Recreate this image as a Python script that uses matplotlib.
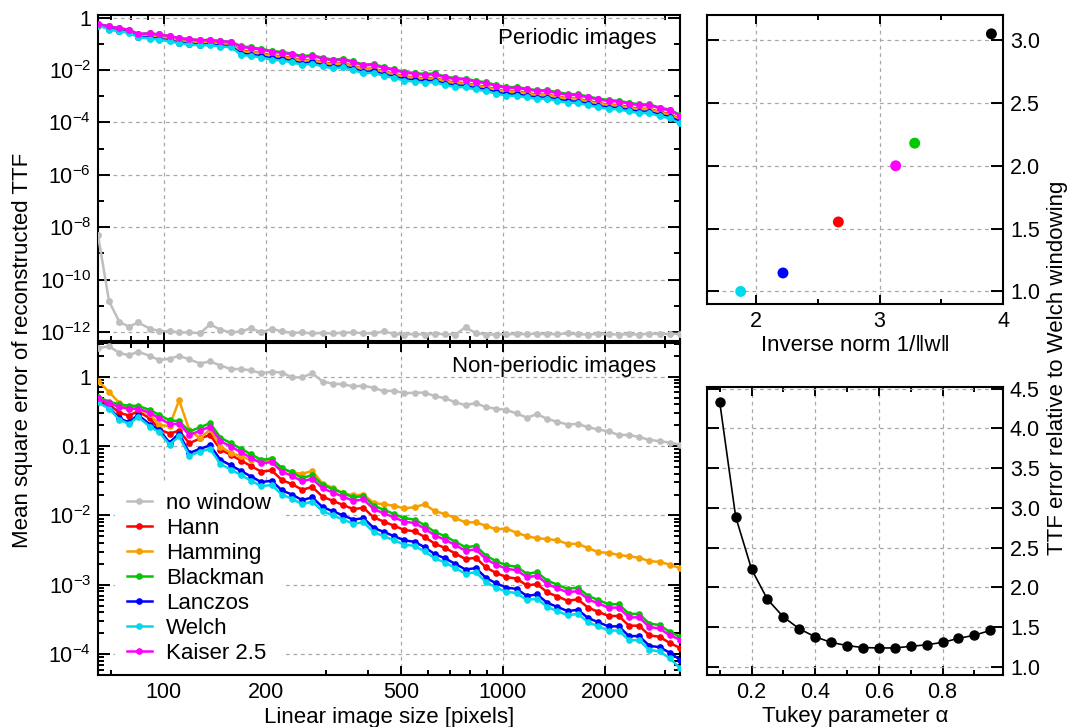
import matplotlib
matplotlib.use("Agg")
import numpy as np
import matplotlib.pyplot as plt
from matplotlib.ticker import FixedLocator, NullFormatter, FixedFormatter

plt.rcParams['font.family'] = ['Liberation Sans', 'DejaVu Sans']
plt.rcParams['mathtext.fontset'] = 'custom'
plt.rcParams['mathtext.rm'] = 'Liberation Sans'
plt.rcParams['mathtext.it'] = 'Liberation Sans:italic'
plt.rcParams['mathtext.default'] = 'regular'

# ---------------- data ----------------
# linear image sizes [pixels]
size_px = [64, 69, 74, 79, 84, 91, 97, 104, 111, 119,
           128, 137, 147, 158, 169, 181, 194, 208, 223, 239,
           256, 274, 294, 315, 338, 362, 388, 416, 446, 478,
           512, 549, 588, 630, 676, 724, 776, 832, 891, 955,
           1024, 1097, 1176, 1261, 1351, 1448, 1552, 1663, 1783, 1911,
           2048, 2195, 2353, 2521, 2702, 2896, 3104, 3327]

# Periodic images: log10 of mean square error
per_nowin = [-8.31, -10.83, -11.62, -11.80, -11.64, -11.87, -11.97, -11.97, -12.02, -12.02,
             -12.05, -11.71, -11.92, -12.02, -11.98, -11.86, -12.02, -11.88, -11.98, -12.04,
             -12.02, -12.06, -12.04, -12.06, -12.03, -12.02, -12.05, -12.06, -11.98, -12.08,
             -12.10, -12.08, -12.10, -12.07, -12.09, -12.10, -11.82, -12.05, -12.10, -12.10,
             -12.08, -12.09, -12.08, -12.07, -12.09, -12.08, -12.06, -12.09, -12.10, -12.08,
             -12.09, -12.10, -12.09, -12.10, -12.07, -12.08, -12.07, -12.08]
per_hann = [-0.26, -0.39, -0.46, -0.52, -0.68, -0.70, -0.74, -0.80, -0.88, -0.92,
            -0.96, -0.95, -1.00, -1.02, -1.26, -1.30, -1.36, -1.44, -1.48, -1.54,
            -1.64, -1.60, -1.70, -1.77, -1.74, -1.84, -1.96, -1.94, -2.06, -2.14,
            -2.24, -2.28, -2.32, -2.30, -2.42, -2.48, -2.50, -2.58, -2.64, -2.74,
            -2.82, -2.82, -2.88, -2.94, -2.94, -3.02, -3.08, -3.10, -3.18, -3.26,
            -3.32, -3.34, -3.42, -3.48, -3.48, -3.60, -3.68, -3.88]
per_hamming = [-0.30, -0.40, -0.47, -0.53, -0.69, -0.71, -0.75, -0.81, -0.89, -0.93,
               -0.97, -0.96, -1.01, -1.03, -1.28, -1.32, -1.38, -1.46, -1.50, -1.56,
               -1.66, -1.62, -1.72, -1.79, -1.76, -1.86, -1.98, -1.96, -2.08, -2.16,
               -2.26, -2.30, -2.34, -2.32, -2.44, -2.50, -2.52, -2.60, -2.66, -2.76,
               -2.84, -2.84, -2.90, -2.96, -2.96, -3.04, -3.10, -3.12, -3.20, -3.28,
               -3.34, -3.36, -3.44, -3.50, -3.50, -3.62, -3.70, -3.90]
per_blackman = [-0.24, -0.33, -0.40, -0.46, -0.62, -0.60, -0.64, -0.70, -0.78, -0.82,
                -0.86, -0.85, -0.90, -0.92, -1.09, -1.13, -1.19, -1.27, -1.31, -1.37,
                -1.47, -1.43, -1.53, -1.60, -1.57, -1.67, -1.79, -1.77, -1.89, -1.97,
                -2.07, -2.11, -2.15, -2.13, -2.25, -2.31, -2.33, -2.41, -2.47, -2.57,
                -2.65, -2.65, -2.71, -2.77, -2.77, -2.85, -2.91, -2.93, -3.01, -3.09,
                -3.15, -3.17, -3.25, -3.31, -3.31, -3.43, -3.51, -3.71]
per_lanczos = [-0.27, -0.43, -0.50, -0.56, -0.72, -0.77, -0.81, -0.87, -0.95, -0.99,
               -1.03, -1.02, -1.07, -1.09, -1.37, -1.41, -1.47, -1.55, -1.59, -1.65,
               -1.75, -1.71, -1.81, -1.88, -1.85, -1.95, -2.07, -2.05, -2.17, -2.25,
               -2.35, -2.39, -2.43, -2.41, -2.53, -2.59, -2.61, -2.69, -2.75, -2.85,
               -2.93, -2.93, -2.99, -3.05, -3.05, -3.13, -3.19, -3.21, -3.29, -3.37,
               -3.43, -3.45, -3.53, -3.59, -3.59, -3.71, -3.79, -3.97]
per_welch = [-0.28, -0.45, -0.52, -0.58, -0.74, -0.80, -0.84, -0.90, -0.98, -1.02,
             -1.06, -1.05, -1.10, -1.12, -1.42, -1.46, -1.52, -1.60, -1.64, -1.70,
             -1.80, -1.76, -1.86, -1.93, -1.90, -2.00, -2.12, -2.10, -2.22, -2.30,
             -2.40, -2.44, -2.48, -2.46, -2.58, -2.64, -2.66, -2.74, -2.80, -2.90,
             -2.98, -2.98, -3.04, -3.10, -3.10, -3.18, -3.24, -3.26, -3.34, -3.42,
             -3.48, -3.50, -3.58, -3.64, -3.64, -3.76, -3.84, -4.04]
per_kaiser = [-0.24, -0.33, -0.40, -0.46, -0.62, -0.60, -0.64, -0.70, -0.78, -0.82,
              -0.86, -0.85, -0.90, -0.92, -1.12, -1.16, -1.22, -1.30, -1.34, -1.40,
              -1.50, -1.46, -1.56, -1.63, -1.60, -1.70, -1.82, -1.80, -1.92, -2.00,
              -2.10, -2.14, -2.18, -2.16, -2.28, -2.34, -2.36, -2.44, -2.50, -2.60,
              -2.68, -2.68, -2.74, -2.80, -2.80, -2.88, -2.94, -2.96, -3.04, -3.12,
              -3.18, -3.20, -3.28, -3.34, -3.34, -3.46, -3.54, -3.74]

# Non-periodic images: log10 of mean square error
non_nowin = [0.41, 0.44, 0.34, 0.31, 0.36, 0.30, 0.24, 0.26, 0.30, 0.25,
             0.19, 0.22, 0.16, 0.11, 0.11, 0.09, 0.05, 0.07, 0.06, -0.01,
             -0.01, 0.05, -0.07, -0.10, -0.11, -0.14, -0.13, -0.16, -0.21, -0.20,
             -0.24, -0.23, -0.23, -0.28, -0.31, -0.37, -0.41, -0.38, -0.44, -0.46,
             -0.48, -0.53, -0.59, -0.54, -0.61, -0.65, -0.69, -0.68, -0.73, -0.76,
             -0.79, -0.84, -0.84, -0.87, -0.91, -0.93, -0.95, -0.98]
non_hann = [-0.33, -0.40, -0.52, -0.56, -0.50, -0.60, -0.76, -0.82, -0.78, -0.96,
            -0.89, -0.84, -1.05, -1.13, -1.21, -1.29, -1.37, -1.35, -1.49, -1.55,
            -1.63, -1.59, -1.73, -1.79, -1.85, -1.91, -1.89, -2.03, -2.09, -2.15,
            -2.21, -2.23, -2.31, -2.41, -2.47, -2.55, -2.63, -2.61, -2.75, -2.83,
            -2.89, -2.91, -3.01, -2.99, -3.11, -3.17, -3.23, -3.21, -3.33, -3.39,
            -3.45, -3.45, -3.59, -3.59, -3.73, -3.75, -3.84, -3.91]
non_hamming = [-0.06, -0.22, -0.38, -0.46, -0.47, -0.54, -0.70, -0.71, -0.34, -0.77,
               -0.89, -0.76, -1.01, -1.10, -1.15, -1.20, -1.22, -1.19, -1.32, -1.38,
               -1.40, -1.36, -1.54, -1.60, -1.68, -1.71, -1.70, -1.82, -1.84, -1.86,
               -1.90, -1.88, -1.84, -1.94, -1.98, -2.04, -2.10, -2.10, -2.15, -2.20,
               -2.19, -2.25, -2.30, -2.33, -2.34, -2.36, -2.41, -2.41, -2.47, -2.53,
               -2.54, -2.57, -2.59, -2.61, -2.66, -2.67, -2.71, -2.76]
non_blackman = [-0.29, -0.36, -0.40, -0.42, -0.42, -0.48, -0.55, -0.63, -0.64, -0.79,
                -0.73, -0.67, -0.88, -0.96, -1.04, -1.12, -1.20, -1.18, -1.32, -1.38,
                -1.46, -1.42, -1.56, -1.62, -1.68, -1.74, -1.72, -1.86, -1.92, -1.98,
                -2.04, -2.06, -2.14, -2.24, -2.30, -2.38, -2.46, -2.44, -2.58, -2.66,
                -2.72, -2.74, -2.84, -2.82, -2.94, -3.00, -3.06, -3.04, -3.16, -3.22,
                -3.28, -3.28, -3.42, -3.42, -3.56, -3.58, -3.68, -3.75]
non_lanczos = [-0.36, -0.45, -0.60, -0.66, -0.55, -0.69, -0.77, -0.95, -0.82, -1.10,
               -1.04, -0.99, -1.20, -1.28, -1.36, -1.44, -1.52, -1.50, -1.64, -1.70,
               -1.78, -1.74, -1.88, -1.94, -2.00, -2.06, -2.04, -2.18, -2.24, -2.30,
               -2.36, -2.38, -2.46, -2.56, -2.62, -2.70, -2.78, -2.76, -2.90, -2.98,
               -3.04, -3.06, -3.16, -3.14, -3.26, -3.32, -3.38, -3.36, -3.48, -3.54,
               -3.60, -3.60, -3.74, -3.74, -3.88, -3.90, -3.98, -4.08]
non_welch = [-0.37, -0.46, -0.62, -0.68, -0.58, -0.72, -0.80, -0.98, -0.86, -1.14,
             -1.08, -1.04, -1.26, -1.34, -1.42, -1.50, -1.58, -1.56, -1.70, -1.76,
             -1.84, -1.80, -1.94, -2.00, -2.06, -2.12, -2.10, -2.24, -2.30, -2.36,
             -2.42, -2.44, -2.52, -2.62, -2.68, -2.76, -2.84, -2.82, -2.96, -3.04,
             -3.10, -3.12, -3.22, -3.20, -3.32, -3.38, -3.44, -3.42, -3.54, -3.60,
             -3.66, -3.66, -3.80, -3.80, -3.94, -3.96, -4.06, -4.20]
non_kaiser = [-0.31, -0.38, -0.44, -0.46, -0.46, -0.52, -0.60, -0.68, -0.68, -0.84,
              -0.78, -0.72, -0.93, -1.01, -1.09, -1.17, -1.25, -1.23, -1.37, -1.43,
              -1.51, -1.47, -1.61, -1.67, -1.73, -1.79, -1.77, -1.91, -1.97, -2.03,
              -2.09, -2.11, -2.19, -2.29, -2.35, -2.43, -2.51, -2.49, -2.63, -2.71,
              -2.77, -2.79, -2.89, -2.87, -2.99, -3.05, -3.11, -3.09, -3.21, -3.27,
              -3.33, -3.33, -3.47, -3.47, -3.61, -3.63, -3.73, -3.79]

series_names = ['no window', 'Hann', 'Hamming', 'Blackman', 'Lanczos', 'Welch', 'Kaiser 2.5']
series_colors = ['#bebebe', '#ff0000', '#f5a000', '#00c800', '#0000ff', '#00d8ec', '#ff00ff']

# Right panels
inv_norm = [1.873, 2.216, 2.665, 3.13, 3.284, 3.906]
rel_err = [1.0, 1.147, 1.553, 2.0, 2.18, 3.05]
pt_colors = ['#00d8ec', '#0000ff', '#ff0000', '#ff00ff', '#00c800', '#000000']

tukey_alpha = [0.10, 0.15, 0.20, 0.25, 0.30, 0.35, 0.40, 0.45, 0.50, 0.55,
               0.60, 0.65, 0.70, 0.75, 0.80, 0.85, 0.90, 0.95]
tukey_err = [4.33, 2.89, 2.23, 1.85, 1.63, 1.48, 1.38, 1.31, 1.27, 1.245,
             1.24, 1.24, 1.26, 1.28, 1.31, 1.36, 1.40, 1.46]

# ---------------- figure ----------------
W, H = 1084, 727
fig = plt.figure(figsize=(W / 100, H / 100), dpi=100)

def rect(l, t, r, b):
    return [l / W, 1 - b / H, (r - l) / W, (b - t) / H]

ax1 = fig.add_axes(rect(98, 15, 680, 341))
ax2 = fig.add_axes(rect(98, 343, 680, 675))
ax3 = fig.add_axes(rect(707, 15, 1003, 304))
ax4 = fig.add_axes(rect(707, 387, 1003, 675))

TICK = 15.5
LAB = 16
grid_kw = dict(color='#a8a8a8', linestyle=(0, (3, 3)), linewidth=0.9)

for ax in (ax1, ax2, ax3, ax4):
    for s in ax.spines.values():
        s.set_linewidth(1.5)
    ax.tick_params(which='both', direction='in', top=True, right=True,
                   width=1.4, labelsize=TICK, pad=5)
    ax.tick_params(axis='y', which='major', length=8.5)
    ax.tick_params(axis='y', which='minor', length=4.5)
    ax.tick_params(axis='x', which='major', length=6.5)
    ax.tick_params(axis='x', which='minor', length=3.5)
    ax.grid(True, which='major', **grid_kw)
    ax.set_axisbelow(True)

# ---- left panels ----
xmaj = [100, 200, 500, 1000, 2000]
xmin = [70, 80, 90, 300, 400, 600, 700, 800, 900, 3000]
for ax in (ax1, ax2):
    ax.set_xscale('log')
    ax.set_xlim(64, 3327)
    ax.xaxis.set_major_locator(FixedLocator(xmaj))
    ax.xaxis.set_minor_locator(FixedLocator(xmin))
    ax.xaxis.set_minor_formatter(NullFormatter())
ax1.xaxis.set_major_formatter(NullFormatter())
ax2.xaxis.set_major_formatter(FixedFormatter(['100', '200', '500', '1000', '2000']))

ax1.set_yscale('log')
ax1.set_ylim(4.5e-13, 1.27)
ax1.yaxis.set_major_locator(FixedLocator([1e-12, 1e-10, 1e-8, 1e-6, 1e-4, 1e-2, 1]))
ax1.yaxis.set_major_formatter(FixedFormatter(
    [r'$10^{-12}$', r'$10^{-10}$', r'$10^{-8}$', r'$10^{-6}$', r'$10^{-4}$', r'$10^{-2}$', '1']))
ax1.yaxis.set_minor_locator(FixedLocator([1e-11, 1e-9, 1e-7, 1e-5, 1e-3, 1e-1]))
ax1.yaxis.set_minor_formatter(NullFormatter())

ax2.set_yscale('log')
ax2.set_ylim(5.0e-5, 3.06)
ax2.yaxis.set_major_locator(FixedLocator([1e-4, 1e-3, 1e-2, 0.1, 1]))
ax2.yaxis.set_major_formatter(FixedFormatter(
    [r'$10^{-4}$', r'$10^{-3}$', r'$10^{-2}$', '0.1', '1']))
ax2.yaxis.set_minor_locator(FixedLocator(
    [m * 10.0 ** e for e in range(-5, 1) for m in range(2, 10)]))
ax2.yaxis.set_minor_formatter(NullFormatter())

per_series = [per_nowin, per_hann, per_hamming, per_blackman, per_lanczos, per_welch, per_kaiser]
non_series = [non_nowin, non_hann, non_hamming, non_blackman, non_lanczos, non_welch, non_kaiser]

for vals, name, col in zip(per_series, series_names, series_colors):
    ax1.plot(size_px, 10.0 ** np.array(vals), color=col, marker='o', markersize=5.0,
             linewidth=1.8, markeredgewidth=0, zorder=3)
for vals, name, col in zip(non_series, series_names, series_colors):
    ax2.plot(size_px, 10.0 ** np.array(vals), color=col, label=name, marker='o',
             markersize=4.8, linewidth=1.8, markeredgewidth=0, zorder=3)

ax1.text(0.959, 0.929, 'Periodic images', transform=ax1.transAxes,
         ha='right', va='center', fontsize=LAB)
ax2.text(0.959, 0.929, 'Non-periodic images', transform=ax2.transAxes,
         ha='right', va='center', fontsize=LAB)
leg = ax2.legend(loc='lower left', bbox_to_anchor=(0.03, 0.0), frameon=True,
                 fontsize=LAB, handlelength=1.15, handletextpad=0.63,
                 labelspacing=0.18, borderpad=0.5, borderaxespad=0.0,
                 fancybox=False, numpoints=1)
leg.get_frame().set_edgecolor('none')
leg.get_frame().set_facecolor('white')
leg.get_frame().set_alpha(1)
leg.set_zorder(2)

ax2.set_xlabel('Linear image size [pixels]', fontsize=LAB, labelpad=3)
fig.text(23 / W, 1 - 350 / H, 'Mean square error of reconstructed TTF',
         rotation=90, ha='center', va='center', fontsize=LAB)

# ---- right panels ----
ax3.scatter(inv_norm, rel_err, c=pt_colors, s=62, zorder=3, linewidths=0)
ax3.set_xlim(1.6, 4.0)
ax3.set_ylim(0.9, 3.2)
ax3.xaxis.set_major_locator(FixedLocator([2, 3, 4]))
ax3.xaxis.set_minor_locator(FixedLocator([2.5, 3.5]))
ax3.yaxis.set_major_locator(FixedLocator([1.0, 1.5, 2.0, 2.5, 3.0]))
ax3.yaxis.set_major_formatter(FixedFormatter(['1.0', '1.5', '2.0', '2.5', '3.0']))
ax3.tick_params(axis='y', labelleft=False, labelright=True)
ax3.set_xlabel('Inverse norm 1/\u2016w\u2016', fontsize=LAB, labelpad=2)

ax4.plot(tukey_alpha, tukey_err, color='black', marker='o', markersize=6.5, linewidth=1.2)
ax4.set_xlim(0.06, 0.99)
ax4.set_ylim(0.9, 4.52)
ax4.xaxis.set_major_locator(FixedLocator([0.2, 0.4, 0.6, 0.8]))
ax4.xaxis.set_major_formatter(FixedFormatter(['0.2', '0.4', '0.6', '0.8']))
ax4.xaxis.set_minor_locator(FixedLocator([0.1, 0.3, 0.5, 0.7, 0.9]))
ax4.yaxis.set_major_locator(FixedLocator([1.0, 1.5, 2.0, 2.5, 3.0, 3.5, 4.0, 4.5]))
ax4.yaxis.set_major_formatter(FixedFormatter(['1.0', '1.5', '2.0', '2.5', '3.0', '3.5', '4.0', '4.5']))
ax4.tick_params(axis='y', labelleft=False, labelright=True)
ax4.set_xlabel('Tukey parameter \u03b1', fontsize=LAB, labelpad=2)

fig.text(1058 / W, 1 - 368 / H, 'TTF error relative to Welch windowing',
         rotation=90, ha='center', va='center', fontsize=LAB)

fig.savefig('out.png', dpi=100)
